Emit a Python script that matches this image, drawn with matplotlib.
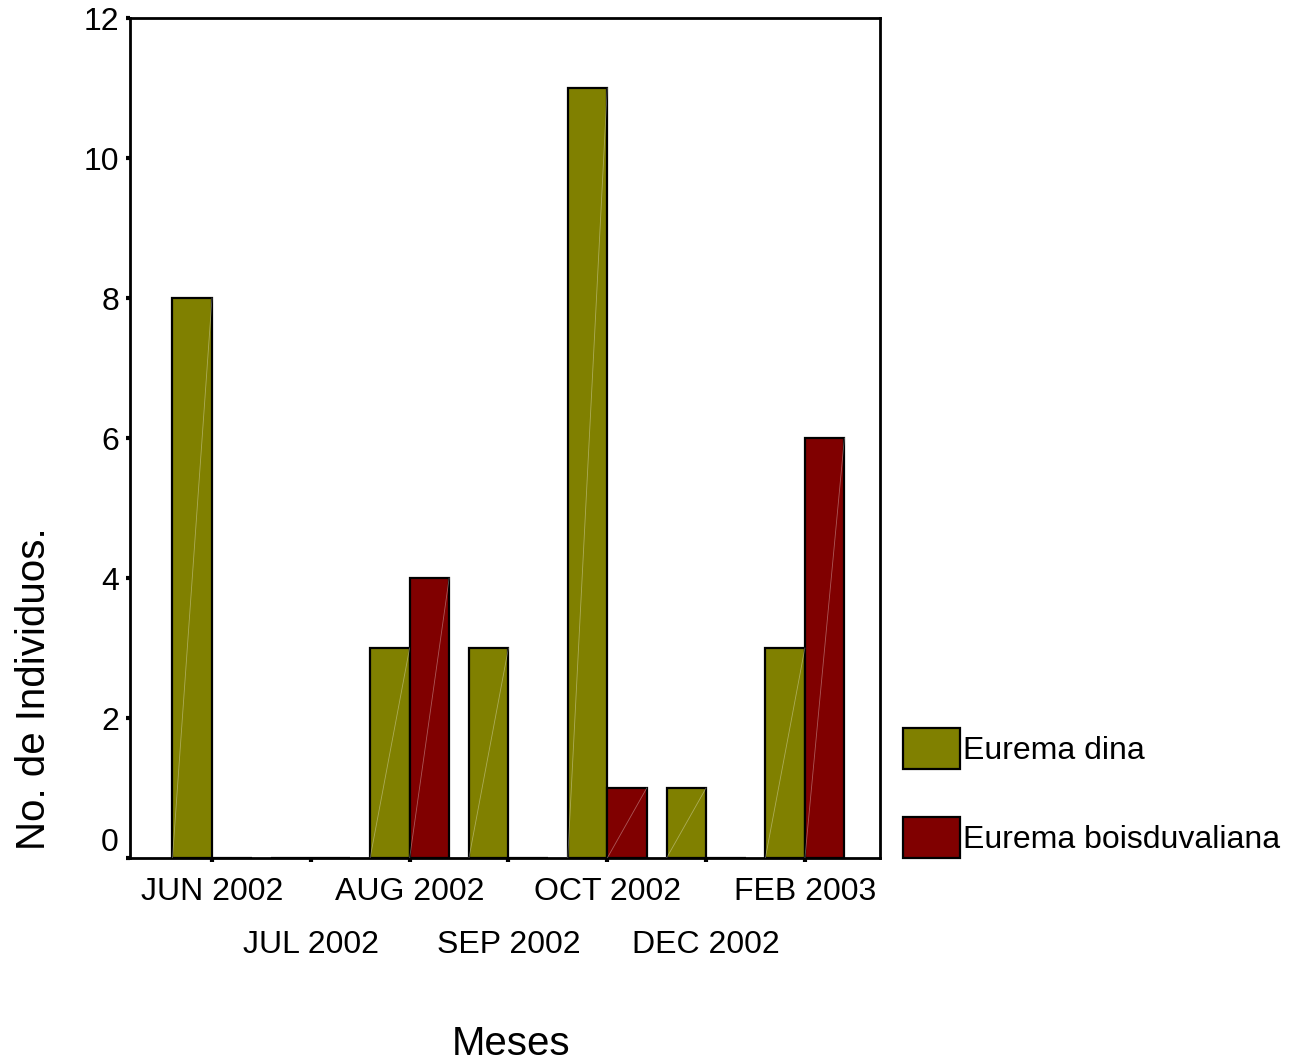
import matplotlib
matplotlib.use("Agg")
import matplotlib.pyplot as plt
import numpy as np

months = ["JUN 2002", "JUL 2002", "AUG 2002", "SEP 2002", "OCT 2002", "DEC 2002", "FEB 2003"]
eurema_dina = [8, 0, 3, 3, 11, 1, 3]
eurema_boisduvaliana = [0, 0, 4, 0, 1, 0, 6]
series_names = ["Eurema dina", "Eurema boisduvaliana"]
colors = ["#808000", "#800000"]
yticks = [0, 2, 4, 6, 8, 10, 12]

plt.rcParams['font.family'] = ['Liberation Sans', 'DejaVu Sans']

fig = plt.figure(figsize=(13.01, 10.64), dpi=100)
ax = fig.add_axes([130/1301, 206/1064, 750/1301, 840/1064])

x = np.arange(len(months))
w = 0.4
for vals, off, col, name in [(eurema_dina, -w/2, colors[0], series_names[0]),
                             (eurema_boisduvaliana, w/2, colors[1], series_names[1])]:
    ax.bar(x + off, vals, width=w, color=col, edgecolor="black",
           linewidth=1.6, label=name, zorder=2)
    for xi, v in zip(x + off, vals):
        if v > 0:
            ax.plot([xi - w/2, xi + w/2], [0, v], color="white", lw=0.6,
                    alpha=0.35, zorder=3)

ax.set_xlim(-0.83, 6.76)
ax.set_ylim(0, 12)
ax.set_yticks(yticks)
ax.set_yticklabels([str(t) for t in yticks])
ax.set_xticks(x)
ax.set_xticklabels(months)

for s in ax.spines.values():
    s.set_linewidth(2)

ax.tick_params(axis="both", direction="out", length=3, width=3, labelsize=23)
ax.tick_params(axis="y", pad=5)

for i, t in enumerate(ax.xaxis.get_major_ticks()):
    t.set_pad(11 if i % 2 == 0 else 49)

ylabs = ax.get_yticklabels()
ylabs[0].set_va("bottom")

ax.set_xlabel("Meses", fontsize=29)
ax.xaxis.set_label_coords((511 - 130) / 750, (858 - 1025) / 840)
ax.set_ylabel("No. de Individuos.", fontsize=29)
ax.yaxis.set_label_coords((53 - 130) / 750, (858 - 689) / 840)

ax.legend(loc="upper left", bbox_to_anchor=(903/1301, (1064-728)/1064),
          bbox_transform=fig.transFigure, frameon=False, fontsize=23,
          handlelength=1.78, handleheight=1.6, handletextpad=0.1,
          labelspacing=1.5, borderpad=0, borderaxespad=0)

fig.savefig("out.png", dpi=100)
